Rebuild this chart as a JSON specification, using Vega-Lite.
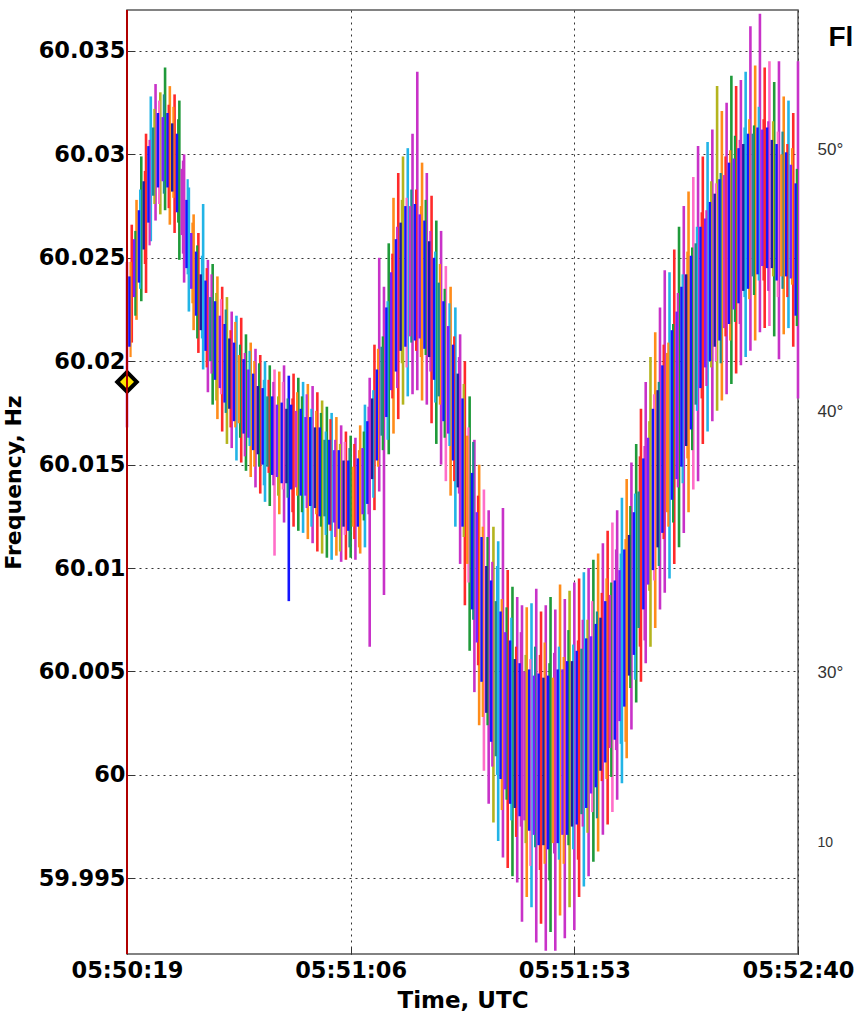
{
  "$schema": "https://vega.github.io/schema/vega-lite/v6.json",
  "width": 671,
  "height": 944,
  "autosize": {"type": "none"},
  "padding": {"left": 127, "top": 10, "right": 56, "bottom": 68},
  "background": "white",
  "config": {"view": {"stroke": "#5a5a5a", "strokeWidth": 1.5}},
  "resolve": {"scale": {"y": "independent"}, "axis": {"y": "independent"}},
  "layer": [
    {
      "layer": [
        {
          "data": {"values": [
{"s":0,"lo":60.0168,"hi":60.0248,"k":"m"},{"s":1,"lo":60.0209,"hi":60.0266,"k":"r"},{"s":2,"lo":60.0220,"hi":60.0278,"k":"o"},{"s":3,"lo":60.0229,"hi":60.0299,"k":"g"},{"s":4,"lo":60.0233,"hi":60.0310,"k":"r"},{"s":5,"lo":60.0258,"hi":60.0328,"k":"c"},{"s":6,"lo":60.0268,"hi":60.0334,"k":"m"},{"s":7,"lo":60.0271,"hi":60.0330,"k":"y"},{"s":8,"lo":60.0273,"hi":60.0342,"k":"g"},{"s":9,"lo":60.0266,"hi":60.0333,"k":"o"},
{"s":10,"lo":60.0262,"hi":60.0329,"k":"r"},{"s":11,"lo":60.0249,"hi":60.0326,"k":"g"},{"s":12,"lo":60.0238,"hi":60.0300,"k":"m"},{"s":13,"lo":60.0224,"hi":60.0284,"k":"c"},{"s":14,"lo":60.0215,"hi":60.0271,"k":"o"},{"s":15,"lo":60.0204,"hi":60.0262,"k":"r"},{"s":16,"lo":60.0196,"hi":60.0276,"k":"c"},{"s":17,"lo":60.0185,"hi":60.0249,"k":"m"},{"s":18,"lo":60.0179,"hi":60.0247,"k":"g"},{"s":19,"lo":60.0172,"hi":60.0241,"k":"o"},
{"s":20,"lo":60.0166,"hi":60.0236,"k":"r"},{"s":21,"lo":60.0160,"hi":60.0231,"k":"y"},{"s":22,"lo":60.0158,"hi":60.0224,"k":"m"},{"s":23,"lo":60.0152,"hi":60.0222,"k":"c"},{"s":24,"lo":60.0151,"hi":60.0221,"k":"r"},{"s":25,"lo":60.0147,"hi":60.0213,"k":"g"},{"s":26,"lo":60.0144,"hi":60.0209,"k":"o"},{"s":27,"lo":60.0139,"hi":60.0206,"k":"m"},{"s":28,"lo":60.0136,"hi":60.0203,"k":"r"},{"s":29,"lo":60.0132,"hi":60.0200,"k":"c"},
{"s":30,"lo":60.0130,"hi":60.0198,"k":"g"},{"s":31,"lo":60.0106,"hi":60.0196,"k":"p"},{"s":32,"lo":60.0126,"hi":60.0195,"k":"o"},{"s":33,"lo":60.0122,"hi":60.0198,"k":"m"},{"s":34,"lo":60.0084,"hi":60.0193,"k":"b"},{"s":35,"lo":60.0120,"hi":60.0194,"k":"r"},{"s":36,"lo":60.0118,"hi":60.0192,"k":"g"},{"s":37,"lo":60.0117,"hi":60.0190,"k":"c"},{"s":38,"lo":60.0114,"hi":60.0189,"k":"o"},{"s":39,"lo":60.0112,"hi":60.0188,"k":"m"},
{"s":40,"lo":60.0108,"hi":60.0185,"k":"r"},{"s":41,"lo":60.0107,"hi":60.0181,"k":"y"},{"s":42,"lo":60.0105,"hi":60.0178,"k":"g"},{"s":43,"lo":60.0104,"hi":60.0175,"k":"c"},{"s":44,"lo":60.0106,"hi":60.0173,"k":"o"},{"s":45,"lo":60.0103,"hi":60.0169,"k":"m"},{"s":46,"lo":60.0104,"hi":60.0166,"k":"r"},{"s":47,"lo":60.0105,"hi":60.0164,"k":"g"},{"s":48,"lo":60.0104,"hi":60.0163,"k":"m"},{"s":49,"lo":60.0107,"hi":60.0169,"k":"o"},
{"s":50,"lo":60.0110,"hi":60.0179,"k":"c"},{"s":51,"lo":60.0062,"hi":60.0192,"k":"m"},{"s":52,"lo":60.0128,"hi":60.0208,"k":"r"},{"s":53,"lo":60.0137,"hi":60.0250,"k":"m"},{"s":54,"lo":60.0087,"hi":60.0236,"k":"m"},{"s":55,"lo":60.0155,"hi":60.0257,"k":"g"},{"s":56,"lo":60.0165,"hi":60.0279,"k":"o"},{"s":57,"lo":60.0172,"hi":60.0291,"k":"r"},{"s":58,"lo":60.0179,"hi":60.0299,"k":"y"},{"s":59,"lo":60.0183,"hi":60.0303,"k":"c"},
{"s":60,"lo":60.0184,"hi":60.0310,"k":"m"},{"s":61,"lo":60.0186,"hi":60.0340,"k":"m"},{"s":62,"lo":60.0181,"hi":60.0296,"k":"o"},{"s":63,"lo":60.0179,"hi":60.0291,"k":"m"},{"s":64,"lo":60.0170,"hi":60.0280,"k":"r"},{"s":65,"lo":60.0160,"hi":60.0268,"k":"g"},{"s":66,"lo":60.0150,"hi":60.0263,"k":"m"},{"s":67,"lo":60.0142,"hi":60.0246,"k":"p"},{"s":68,"lo":60.0135,"hi":60.0236,"k":"o"},{"s":69,"lo":60.0120,"hi":60.0226,"k":"c"},
{"s":70,"lo":60.0102,"hi":60.0213,"k":"m"},{"s":71,"lo":60.0082,"hi":60.0200,"k":"r"},{"s":72,"lo":60.0060,"hi":60.0183,"k":"g"},{"s":73,"lo":60.0040,"hi":60.0162,"k":"m"},{"s":74,"lo":60.0024,"hi":60.0150,"k":"o"},{"s":75,"lo":60.0002,"hi":60.0138,"k":"p"},{"s":76,"lo":59.9986,"hi":60.0128,"k":"m"},{"s":77,"lo":59.9977,"hi":60.0120,"k":"y"},{"s":78,"lo":59.9968,"hi":60.0113,"k":"c"},{"s":79,"lo":59.9960,"hi":60.0129,"k":"m"},
{"s":80,"lo":59.9955,"hi":60.0099,"k":"r"},{"s":81,"lo":59.9951,"hi":60.0091,"k":"g"},{"s":82,"lo":59.9948,"hi":60.0086,"k":"m"},{"s":83,"lo":59.9929,"hi":60.0082,"k":"m"},{"s":84,"lo":59.9941,"hi":60.0081,"k":"o"},{"s":85,"lo":59.9936,"hi":60.0083,"k":"c"},{"s":86,"lo":59.9919,"hi":60.0090,"k":"m"},{"s":87,"lo":59.9928,"hi":60.0079,"k":"r"},{"s":88,"lo":59.9915,"hi":60.0082,"k":"m"},{"s":89,"lo":59.9924,"hi":60.0086,"k":"g"},
{"s":90,"lo":59.9915,"hi":60.0080,"k":"m"},{"s":91,"lo":59.9932,"hi":60.0092,"k":"o"},{"s":92,"lo":59.9921,"hi":60.0085,"k":"m"},{"s":93,"lo":59.9936,"hi":60.0089,"k":"y"},{"s":94,"lo":59.9925,"hi":60.0093,"k":"m"},{"s":95,"lo":59.9941,"hi":60.0095,"k":"r"},{"s":96,"lo":59.9946,"hi":60.0098,"k":"c"},{"s":97,"lo":59.9951,"hi":60.0100,"k":"m"},{"s":98,"lo":59.9958,"hi":60.0104,"k":"g"},{"s":99,"lo":59.9963,"hi":60.0107,"k":"o"},
{"s":100,"lo":59.9971,"hi":60.0112,"k":"m"},{"s":101,"lo":59.9976,"hi":60.0118,"k":"r"},{"s":102,"lo":59.9982,"hi":60.0122,"k":"p"},{"s":103,"lo":59.9988,"hi":60.0128,"k":"m"},{"s":104,"lo":59.9996,"hi":60.0134,"k":"c"},{"s":105,"lo":60.0008,"hi":60.0143,"k":"o"},{"s":106,"lo":60.0022,"hi":60.0151,"k":"m"},{"s":107,"lo":60.0035,"hi":60.0160,"k":"g"},{"s":108,"lo":60.0045,"hi":60.0177,"k":"r"},{"s":109,"lo":60.0054,"hi":60.0190,"k":"m"},
{"s":110,"lo":60.0062,"hi":60.0202,"k":"y"},{"s":111,"lo":60.0071,"hi":60.0214,"k":"o"},{"s":112,"lo":60.0080,"hi":60.0226,"k":"m"},{"s":113,"lo":60.0088,"hi":60.0244,"k":"m"},{"s":114,"lo":60.0095,"hi":60.0243,"k":"c"},{"s":115,"lo":60.0102,"hi":60.0254,"k":"r"},{"s":116,"lo":60.0110,"hi":60.0265,"k":"g"},{"s":117,"lo":60.0117,"hi":60.0275,"k":"m"},{"s":118,"lo":60.0127,"hi":60.0282,"k":"o"},{"s":119,"lo":60.0138,"hi":60.0289,"k":"p"},
{"s":120,"lo":60.0142,"hi":60.0304,"k":"m"},{"s":121,"lo":60.0160,"hi":60.0299,"k":"r"},{"s":122,"lo":60.0166,"hi":60.0306,"k":"c"},{"s":123,"lo":60.0171,"hi":60.0312,"k":"m"},{"s":124,"lo":60.0176,"hi":60.0333,"k":"y"},{"s":125,"lo":60.0181,"hi":60.0321,"k":"o"},{"s":126,"lo":60.0184,"hi":60.0325,"k":"m"},{"s":127,"lo":60.0189,"hi":60.0338,"k":"g"},{"s":128,"lo":60.0194,"hi":60.0333,"k":"r"},{"s":129,"lo":60.0198,"hi":60.0336,"k":"m"},
{"s":130,"lo":60.0202,"hi":60.0340,"k":"c"},{"s":131,"lo":60.0205,"hi":60.0362,"k":"m"},{"s":132,"lo":60.0210,"hi":60.0343,"k":"o"},{"s":133,"lo":60.0214,"hi":60.0368,"k":"m"},{"s":134,"lo":60.0216,"hi":60.0342,"k":"r"},{"s":135,"lo":60.0217,"hi":60.0345,"k":"p"},{"s":136,"lo":60.0212,"hi":60.0335,"k":"g"},{"s":137,"lo":60.0201,"hi":60.0345,"k":"m"},{"s":138,"lo":60.0213,"hi":60.0328,"k":"o"},{"s":139,"lo":60.0216,"hi":60.0326,"k":"c"},
{"s":140,"lo":60.0207,"hi":60.0320,"k":"r"},{"s":141,"lo":60.0182,"hi":60.0345,"k":"m"}
          ]},
          "mark": {"type": "rule", "strokeWidth": 2.6},
          "encoding": {
            "x": {
              "field": "s", "type": "quantitative",
              "scale": {"domain": [0, 141], "nice": false, "zero": false},
              "axis": {
                "title": "Time, UTC",
                "values": [0, 47, 94, 141],
                "labelExpr": "timeFormat(datetime(2013, 0, 1, 5, 50, 19 + datum.value), '%H:%M:%S')",
                "grid": true, "gridDash": [2, 4], "gridColor": "#333", "gridWidth": 1,
                "domain": false, "ticks": true, "tickSize": -7, "tickColor": "#333",
                "labelFlush": false, "labelOverlap": false, "labelBound": false,
                "labelFont": "DejaVu Sans", "labelFontWeight": "bold", "labelFontSize": 22.5, "labelColor": "#000", "labelPadding": 12,
                "titleFont": "DejaVu Sans", "titleFontWeight": "bold", "titleFontSize": 23, "titleColor": "#000", "titlePadding": 8
              }
            },
            "y": {
              "field": "lo", "type": "quantitative",
              "scale": {"domain": [59.99134, 60.03698], "nice": false, "zero": false},
              "axis": {
                "title": "Frequency, Hz",
                "values": [59.995, 60, 60.005, 60.01, 60.015, 60.02, 60.025, 60.03, 60.035],
                "format": ".3~f",
                "grid": true, "gridDash": [2, 4], "gridColor": "#333", "gridWidth": 1,
                "domain": false, "ticks": true, "tickSize": -7, "tickColor": "#333",
                "labelFont": "DejaVu Sans", "labelFontWeight": "bold", "labelFontSize": 22.5, "labelColor": "#000", "labelPadding": 9,
                "titleFont": "DejaVu Sans", "titleFontWeight": "bold", "titleFontSize": 22, "titleColor": "#000", "titlePadding": 13
              }
            },
            "y2": {"field": "hi"},
            "color": {
              "field": "k", "type": "nominal", "legend": null,
              "scale": {
                "domain": ["m", "r", "o", "g", "c", "y", "p", "b", "v", "n", "t"],
                "range": ["#c832c8", "#ff2a2a", "#ff8c1a", "#1f9a3a", "#22b4e6", "#b4b41e", "#ff6ec8", "#1414ff", "#7a1eff", "#1c1ca0", "#1e8c8c"]
              }
            }
          }
        },
        {
          "data": {"values": [
{"s":0.75,"lo":60.0202,"hi":60.0248,"k":"o"},{"s":1.75,"lo":60.0222,"hi":60.0263,"k":"g"},{"s":2.75,"lo":60.0235,"hi":60.0283,"k":"c"},{"s":3.75,"lo":60.0247,"hi":60.0292,"k":"r"},{"s":4.75,"lo":60.0256,"hi":60.0307,"k":"m"},{"s":5.75,"lo":60.0276,"hi":60.0322,"k":"y"},{"s":6.75,"lo":60.0276,"hi":60.0326,"k":"p"},{"s":7.75,"lo":60.0281,"hi":60.0329,"k":"t"},{"s":8.75,"lo":60.0274,"hi":60.0324,"k":"r"},{"s":9.75,"lo":60.0279,"hi":60.0323,"k":"o"},
{"s":10.75,"lo":60.0267,"hi":60.0317,"k":"g"},{"s":11.75,"lo":60.0252,"hi":60.0297,"k":"m"},{"s":12.75,"lo":60.0242,"hi":60.0288,"k":"c"},{"s":13.75,"lo":60.0228,"hi":60.0267,"k":"o"},{"s":14.75,"lo":60.0211,"hi":60.0256,"k":"g"},{"s":15.75,"lo":60.0211,"hi":60.0251,"k":"c"},{"s":16.75,"lo":60.0197,"hi":60.0245,"k":"r"},{"s":17.75,"lo":60.0194,"hi":60.0242,"k":"m"},{"s":18.75,"lo":60.0181,"hi":60.0233,"k":"y"},{"s":19.75,"lo":60.0184,"hi":60.0230,"k":"p"},
{"s":20.75,"lo":60.0175,"hi":60.0225,"k":"t"},{"s":21.75,"lo":60.0168,"hi":60.0215,"k":"r"},{"s":22.75,"lo":60.0168,"hi":60.0219,"k":"o"},{"s":23.75,"lo":60.0163,"hi":60.0208,"k":"g"},{"s":24.75,"lo":60.0154,"hi":60.0204,"k":"m"},{"s":25.75,"lo":60.0159,"hi":60.0205,"k":"c"},{"s":26.75,"lo":60.0149,"hi":60.0200,"k":"o"},{"s":27.75,"lo":60.0149,"hi":60.0199,"k":"g"},{"s":28.75,"lo":60.0140,"hi":60.0191,"k":"c"},{"s":29.75,"lo":60.0146,"hi":60.0191,"k":"r"},
{"s":30.75,"lo":60.0140,"hi":60.0190,"k":"m"},{"s":31.75,"lo":60.0135,"hi":60.0183,"k":"y"},{"s":32.75,"lo":60.0138,"hi":60.0190,"k":"p"},{"s":33.75,"lo":60.0134,"hi":60.0182,"k":"t"},{"s":34.75,"lo":60.0127,"hi":60.0182,"k":"r"},{"s":35.75,"lo":60.0135,"hi":60.0185,"k":"o"},{"s":36.75,"lo":60.0127,"hi":60.0183,"k":"g"},{"s":37.75,"lo":60.0129,"hi":60.0184,"k":"m"},{"s":38.75,"lo":60.0120,"hi":60.0177,"k":"c"},{"s":39.75,"lo":60.0126,"hi":60.0176,"k":"o"},
{"s":40.75,"lo":60.0120,"hi":60.0175,"k":"g"},{"s":41.75,"lo":60.0116,"hi":60.0166,"k":"c"},{"s":42.75,"lo":60.0118,"hi":60.0172,"k":"r"},{"s":43.75,"lo":60.0115,"hi":60.0162,"k":"m"},{"s":44.75,"lo":60.0108,"hi":60.0160,"k":"y"},{"s":45.75,"lo":60.0116,"hi":60.0161,"k":"p"},{"s":46.75,"lo":60.0110,"hi":60.0158,"k":"t"},{"s":47.75,"lo":60.0114,"hi":60.0160,"k":"r"},{"s":48.75,"lo":60.0110,"hi":60.0157,"k":"o"},{"s":49.75,"lo":60.0123,"hi":60.0166,"k":"g"},
{"s":50.75,"lo":60.0126,"hi":60.0178,"k":"m"},{"s":51.75,"lo":60.0134,"hi":60.0186,"k":"c"},{"s":52.75,"lo":60.0149,"hi":60.0206,"k":"o"},{"s":53.75,"lo":60.0157,"hi":60.0212,"k":"g"},{"s":54.75,"lo":60.0162,"hi":60.0229,"k":"c"},{"s":55.75,"lo":60.0182,"hi":60.0252,"k":"r"},{"s":56.75,"lo":60.0187,"hi":60.0265,"k":"m"},{"s":57.75,"lo":60.0199,"hi":60.0278,"k":"y"},{"s":58.75,"lo":60.0197,"hi":60.0279,"k":"p"},{"s":59.75,"lo":60.0209,"hi":60.0283,"k":"t"},
{"s":60.75,"lo":60.0205,"hi":60.0283,"k":"r"},{"s":61.75,"lo":60.0202,"hi":60.0275,"k":"o"},{"s":62.75,"lo":60.0203,"hi":60.0278,"k":"g"},{"s":63.75,"lo":60.0195,"hi":60.0263,"k":"m"},{"s":64.75,"lo":60.0180,"hi":60.0253,"k":"c"},{"s":65.75,"lo":60.0179,"hi":60.0247,"k":"o"},{"s":66.75,"lo":60.0163,"hi":60.0235,"k":"g"},{"s":67.75,"lo":60.0159,"hi":60.0228,"k":"c"},{"s":68.75,"lo":60.0142,"hi":60.0212,"k":"r"},{"s":69.75,"lo":60.0136,"hi":60.0202,"k":"m"},
{"s":70.75,"lo":60.0115,"hi":60.0189,"k":"y"},{"s":71.75,"lo":60.0093,"hi":60.0168,"k":"p"},{"s":72.75,"lo":60.0075,"hi":60.0161,"k":"t"},{"s":73.75,"lo":60.0053,"hi":60.0135,"k":"r"},{"s":74.75,"lo":60.0028,"hi":60.0120,"k":"o"},{"s":75.75,"lo":60.0024,"hi":60.0115,"k":"g"},{"s":76.75,"lo":60.0004,"hi":60.0103,"k":"m"},{"s":77.75,"lo":60.0000,"hi":60.0101,"k":"c"},{"s":78.75,"lo":59.9983,"hi":60.0085,"k":"o"},{"s":79.75,"lo":59.9988,"hi":60.0081,"k":"g"},
{"s":80.75,"lo":59.9978,"hi":60.0076,"k":"c"},{"s":81.75,"lo":59.9970,"hi":60.0062,"k":"r"},{"s":82.75,"lo":59.9975,"hi":60.0069,"k":"m"},{"s":83.75,"lo":59.9967,"hi":60.0058,"k":"y"},{"s":84.75,"lo":59.9956,"hi":60.0056,"k":"p"},{"s":85.75,"lo":59.9965,"hi":60.0062,"k":"t"},{"s":86.75,"lo":59.9954,"hi":60.0058,"k":"r"},{"s":87.75,"lo":59.9957,"hi":60.0064,"k":"o"},{"s":88.75,"lo":59.9949,"hi":60.0054,"k":"g"},{"s":89.75,"lo":59.9962,"hi":60.0059,"k":"m"},
{"s":90.75,"lo":59.9959,"hi":60.0062,"k":"c"},{"s":91.75,"lo":59.9957,"hi":60.0057,"k":"o"},{"s":92.75,"lo":59.9966,"hi":60.0070,"k":"g"},{"s":93.75,"lo":59.9964,"hi":60.0063,"k":"c"},{"s":94.75,"lo":59.9959,"hi":60.0065,"k":"r"},{"s":95.75,"lo":59.9975,"hi":60.0075,"k":"m"},{"s":96.75,"lo":59.9972,"hi":60.0075,"k":"y"},{"s":97.75,"lo":59.9982,"hi":60.0084,"k":"p"},{"s":98.75,"lo":59.9979,"hi":60.0079,"k":"t"},{"s":99.75,"lo":59.9997,"hi":60.0088,"k":"r"},
{"s":100.75,"lo":59.9998,"hi":60.0095,"k":"o"},{"s":101.75,"lo":59.9999,"hi":60.0093,"k":"g"},{"s":102.75,"lo":60.0012,"hi":60.0109,"k":"m"},{"s":103.75,"lo":60.0015,"hi":60.0107,"k":"c"},{"s":104.75,"lo":60.0016,"hi":60.0114,"k":"o"},{"s":105.75,"lo":60.0042,"hi":60.0130,"k":"g"},{"s":106.75,"lo":60.0046,"hi":60.0136,"k":"c"},{"s":107.75,"lo":60.0062,"hi":60.0154,"k":"r"},{"s":108.75,"lo":60.0065,"hi":60.0159,"k":"m"},{"s":109.75,"lo":60.0089,"hi":60.0171,"k":"y"},
{"s":110.75,"lo":60.0094,"hi":60.0184,"k":"p"},{"s":111.75,"lo":60.0101,"hi":60.0190,"k":"t"},{"s":112.75,"lo":60.0114,"hi":60.0208,"k":"r"},{"s":113.75,"lo":60.0120,"hi":60.0209,"k":"o"},{"s":114.75,"lo":60.0122,"hi":60.0218,"k":"g"},{"s":115.75,"lo":60.0139,"hi":60.0233,"k":"m"},{"s":116.75,"lo":60.0141,"hi":60.0242,"k":"c"},{"s":117.75,"lo":60.0153,"hi":60.0253,"k":"o"},{"s":118.75,"lo":60.0157,"hi":60.0255,"k":"g"},{"s":119.75,"lo":60.0176,"hi":60.0265,"k":"c"},
{"s":120.75,"lo":60.0182,"hi":60.0272,"k":"r"},{"s":121.75,"lo":60.0188,"hi":60.0273,"k":"m"},{"s":122.75,"lo":60.0197,"hi":60.0287,"k":"y"},{"s":123.75,"lo":60.0200,"hi":60.0286,"k":"p"},{"s":124.75,"lo":60.0199,"hi":60.0291,"k":"t"},{"s":125.75,"lo":60.0212,"hi":60.0299,"k":"r"},{"s":126.75,"lo":60.0210,"hi":60.0302,"k":"o"},{"s":127.75,"lo":60.0219,"hi":60.0309,"k":"g"},{"s":128.75,"lo":60.0218,"hi":60.0307,"k":"m"},{"s":129.75,"lo":60.0231,"hi":60.0313,"k":"c"},
{"s":130.75,"lo":60.0230,"hi":60.0317,"k":"o"},{"s":131.75,"lo":60.0232,"hi":60.0314,"k":"g"},{"s":132.75,"lo":60.0239,"hi":60.0323,"k":"c"},{"s":133.75,"lo":60.0239,"hi":60.0317,"k":"r"},{"s":134.75,"lo":60.0234,"hi":60.0316,"k":"m"},{"s":135.75,"lo":60.0241,"hi":60.0316,"k":"y"},{"s":136.75,"lo":60.0231,"hi":60.0311,"k":"p"},{"s":137.75,"lo":60.0235,"hi":60.0311,"k":"t"},{"s":138.75,"lo":60.0231,"hi":60.0305,"k":"r"},{"s":139.75,"lo":60.0237,"hi":60.0303,"k":"o"},
{"s":140.75,"lo":60.0217,"hi":60.0293,"k":"g"}
          ]},
          "mark": {"type": "rule", "strokeWidth": 2.2},
          "encoding": {
            "x": {"field": "s", "type": "quantitative"},
            "y": {"field": "lo", "type": "quantitative"},
            "y2": {"field": "hi"},
            "color": {"field": "k", "type": "nominal", "legend": null}
          }
        },
        {
          "data": {"values": [
{"s":0.5,"lo":60.0207,"hi":60.0241,"k":"b"},{"s":1.5,"lo":60.0231,"hi":60.0259,"k":"v"},{"s":2.5,"lo":60.0238,"hi":60.0273,"k":"b"},{"s":3.5,"lo":60.0254,"hi":60.0287,"k":"n"},{"s":4.5,"lo":60.0267,"hi":60.0304,"k":"b"},{"s":5.5,"lo":60.0280,"hi":60.0313,"k":"t"},{"s":6.5,"lo":60.0284,"hi":60.0320,"k":"b"},{"s":7.5,"lo":60.0287,"hi":60.0318,"k":"v"},{"s":8.5,"lo":60.0284,"hi":60.0320,"k":"b"},{"s":9.5,"lo":60.0282,"hi":60.0315,"k":"n"},
{"s":10.5,"lo":60.0272,"hi":60.0310,"k":"b"},{"s":11.5,"lo":60.0261,"hi":60.0293,"k":"m"},{"s":12.5,"lo":60.0245,"hi":60.0278,"k":"b"},{"s":13.5,"lo":60.0235,"hi":60.0262,"k":"v"},{"s":14.5,"lo":60.0222,"hi":60.0253,"k":"b"},{"s":15.5,"lo":60.0215,"hi":60.0242,"k":"n"},{"s":16.5,"lo":60.0205,"hi":60.0239,"k":"b"},{"s":17.5,"lo":60.0200,"hi":60.0231,"k":"t"},{"s":18.5,"lo":60.0191,"hi":60.0229,"k":"b"},{"s":19.5,"lo":60.0187,"hi":60.0222,"k":"v"},
{"s":20.5,"lo":60.0180,"hi":60.0218,"k":"b"},{"s":21.5,"lo":60.0177,"hi":60.0211,"k":"n"},{"s":22.5,"lo":60.0171,"hi":60.0209,"k":"b"},{"s":23.5,"lo":60.0170,"hi":60.0203,"k":"o"},{"s":24.5,"lo":60.0165,"hi":60.0201,"k":"b"},{"s":25.5,"lo":60.0163,"hi":60.0196,"k":"v"},{"s":26.5,"lo":60.0157,"hi":60.0194,"k":"b"},{"s":27.5,"lo":60.0155,"hi":60.0188,"k":"n"},{"s":28.5,"lo":60.0150,"hi":60.0187,"k":"b"},{"s":29.5,"lo":60.0149,"hi":60.0183,"k":"t"},
{"s":30.5,"lo":60.0145,"hi":60.0183,"k":"b"},{"s":31.5,"lo":60.0144,"hi":60.0179,"k":"v"},{"s":32.5,"lo":60.0141,"hi":60.0180,"k":"b"},{"s":33.5,"lo":60.0141,"hi":60.0177,"k":"n"},{"s":34.5,"lo":60.0138,"hi":60.0179,"k":"b"},{"s":35.5,"lo":60.0139,"hi":60.0176,"k":"m"},{"s":36.5,"lo":60.0135,"hi":60.0177,"k":"b"},{"s":37.5,"lo":60.0135,"hi":60.0173,"k":"v"},{"s":38.5,"lo":60.0130,"hi":60.0173,"k":"b"},{"s":39.5,"lo":60.0129,"hi":60.0168,"k":"n"},
{"s":40.5,"lo":60.0125,"hi":60.0168,"k":"b"},{"s":41.5,"lo":60.0125,"hi":60.0162,"k":"t"},{"s":42.5,"lo":60.0121,"hi":60.0162,"k":"b"},{"s":43.5,"lo":60.0122,"hi":60.0157,"k":"v"},{"s":44.5,"lo":60.0119,"hi":60.0157,"k":"b"},{"s":45.5,"lo":60.0120,"hi":60.0152,"k":"n"},{"s":46.5,"lo":60.0118,"hi":60.0152,"k":"b"},{"s":47.5,"lo":60.0120,"hi":60.0149,"k":"o"},{"s":48.5,"lo":60.0120,"hi":60.0153,"k":"b"},{"s":49.5,"lo":60.0126,"hi":60.0158,"k":"v"},
{"s":50.5,"lo":60.0131,"hi":60.0171,"k":"b"},{"s":51.5,"lo":60.0143,"hi":60.0182,"k":"n"},{"s":52.5,"lo":60.0152,"hi":60.0196,"k":"b"},{"s":53.5,"lo":60.0164,"hi":60.0207,"k":"t"},{"s":54.5,"lo":60.0173,"hi":60.0226,"k":"b"},{"s":55.5,"lo":60.0186,"hi":60.0243,"k":"v"},{"s":56.5,"lo":60.0195,"hi":60.0259,"k":"b"},{"s":57.5,"lo":60.0205,"hi":60.0267,"k":"n"},{"s":58.5,"lo":60.0207,"hi":60.0275,"k":"b"},{"s":59.5,"lo":60.0212,"hi":60.0275,"k":"m"},
{"s":60.5,"lo":60.0210,"hi":60.0276,"k":"b"},{"s":61.5,"lo":60.0211,"hi":60.0271,"k":"v"},{"s":62.5,"lo":60.0206,"hi":60.0268,"k":"b"},{"s":63.5,"lo":60.0202,"hi":60.0258,"k":"n"},{"s":64.5,"lo":60.0191,"hi":60.0250,"k":"b"},{"s":65.5,"lo":60.0183,"hi":60.0238,"k":"t"},{"s":66.5,"lo":60.0171,"hi":60.0229,"k":"b"},{"s":67.5,"lo":60.0165,"hi":60.0217,"k":"v"},{"s":68.5,"lo":60.0152,"hi":60.0208,"k":"b"},{"s":69.5,"lo":60.0139,"hi":60.0194,"k":"n"},
{"s":70.5,"lo":60.0120,"hi":60.0182,"k":"b"},{"s":71.5,"lo":60.0102,"hi":60.0164,"k":"o"},{"s":72.5,"lo":60.0080,"hi":60.0146,"k":"b"},{"s":73.5,"lo":60.0064,"hi":60.0127,"k":"v"},{"s":74.5,"lo":60.0045,"hi":60.0115,"k":"b"},{"s":75.5,"lo":60.0030,"hi":60.0101,"k":"n"},{"s":76.5,"lo":60.0016,"hi":60.0094,"k":"b"},{"s":77.5,"lo":60.0009,"hi":60.0084,"k":"t"},{"s":78.5,"lo":59.9998,"hi":60.0079,"k":"b"},{"s":79.5,"lo":59.9993,"hi":60.0069,"k":"v"},
{"s":80.5,"lo":59.9986,"hi":60.0065,"k":"b"},{"s":81.5,"lo":59.9984,"hi":60.0056,"k":"n"},{"s":82.5,"lo":59.9980,"hi":60.0054,"k":"b"},{"s":83.5,"lo":59.9978,"hi":60.0050,"k":"m"},{"s":84.5,"lo":59.9973,"hi":60.0051,"k":"b"},{"s":85.5,"lo":59.9971,"hi":60.0048,"k":"v"},{"s":86.5,"lo":59.9966,"hi":60.0049,"k":"b"},{"s":87.5,"lo":59.9966,"hi":60.0047,"k":"n"},{"s":88.5,"lo":59.9964,"hi":60.0048,"k":"b"},{"s":89.5,"lo":59.9967,"hi":60.0047,"k":"o"},
{"s":90.5,"lo":59.9967,"hi":60.0051,"k":"b"},{"s":91.5,"lo":59.9971,"hi":60.0051,"k":"v"},{"s":92.5,"lo":59.9971,"hi":60.0055,"k":"b"},{"s":93.5,"lo":59.9975,"hi":60.0055,"k":"n"},{"s":94.5,"lo":59.9976,"hi":60.0060,"k":"b"},{"s":95.5,"lo":59.9981,"hi":60.0061,"k":"t"},{"s":96.5,"lo":59.9984,"hi":60.0066,"k":"b"},{"s":97.5,"lo":59.9991,"hi":60.0067,"k":"v"},{"s":98.5,"lo":59.9994,"hi":60.0073,"k":"b"},{"s":99.5,"lo":60.0002,"hi":60.0076,"k":"n"},
{"s":100.5,"lo":60.0006,"hi":60.0084,"k":"b"},{"s":101.5,"lo":60.0013,"hi":60.0087,"k":"m"},{"s":102.5,"lo":60.0017,"hi":60.0094,"k":"b"},{"s":103.5,"lo":60.0026,"hi":60.0099,"k":"v"},{"s":104.5,"lo":60.0033,"hi":60.0109,"k":"b"},{"s":105.5,"lo":60.0048,"hi":60.0116,"k":"n"},{"s":106.5,"lo":60.0058,"hi":60.0127,"k":"b"},{"s":107.5,"lo":60.0071,"hi":60.0137,"k":"t"},{"s":108.5,"lo":60.0080,"hi":60.0153,"k":"b"},{"s":109.5,"lo":60.0092,"hi":60.0163,"k":"v"},
{"s":110.5,"lo":60.0099,"hi":60.0177,"k":"b"},{"s":111.5,"lo":60.0110,"hi":60.0186,"k":"n"},{"s":112.5,"lo":60.0117,"hi":60.0198,"k":"b"},{"s":113.5,"lo":60.0127,"hi":60.0204,"k":"o"},{"s":114.5,"lo":60.0133,"hi":60.0215,"k":"b"},{"s":115.5,"lo":60.0143,"hi":60.0224,"k":"v"},{"s":116.5,"lo":60.0149,"hi":60.0236,"k":"b"},{"s":117.5,"lo":60.0159,"hi":60.0242,"k":"n"},{"s":118.5,"lo":60.0167,"hi":60.0251,"k":"b"},{"s":119.5,"lo":60.0179,"hi":60.0257,"k":"t"},
{"s":120.5,"lo":60.0187,"hi":60.0265,"k":"b"},{"s":121.5,"lo":60.0197,"hi":60.0269,"k":"v"},{"s":122.5,"lo":60.0200,"hi":60.0277,"k":"b"},{"s":123.5,"lo":60.0207,"hi":60.0281,"k":"n"},{"s":124.5,"lo":60.0210,"hi":60.0288,"k":"b"},{"s":125.5,"lo":60.0216,"hi":60.0290,"k":"m"},{"s":126.5,"lo":60.0218,"hi":60.0296,"k":"b"},{"s":127.5,"lo":60.0225,"hi":60.0298,"k":"v"},{"s":128.5,"lo":60.0228,"hi":60.0303,"k":"b"},{"s":129.5,"lo":60.0234,"hi":60.0305,"k":"n"},
{"s":130.5,"lo":60.0235,"hi":60.0310,"k":"b"},{"s":131.5,"lo":60.0241,"hi":60.0310,"k":"t"},{"s":132.5,"lo":60.0242,"hi":60.0313,"k":"b"},{"s":133.5,"lo":60.0246,"hi":60.0312,"k":"v"},{"s":134.5,"lo":60.0245,"hi":60.0313,"k":"b"},{"s":135.5,"lo":60.0245,"hi":60.0307,"k":"n"},{"s":136.5,"lo":60.0239,"hi":60.0305,"k":"b"},{"s":137.5,"lo":60.0241,"hi":60.0300,"k":"o"},{"s":138.5,"lo":60.0241,"hi":60.0301,"k":"b"},{"s":139.5,"lo":60.0240,"hi":60.0295,"k":"v"},
{"s":140.5,"lo":60.0222,"hi":60.0286,"k":"b"}
          ]},
          "mark": {"type": "rule", "strokeWidth": 2.4},
          "encoding": {
            "x": {"field": "s", "type": "quantitative"},
            "y": {"field": "lo", "type": "quantitative"},
            "y2": {"field": "hi"},
            "color": {"field": "k", "type": "nominal", "legend": null}
          }
        },
        {
          "data": {"values": [{"s": 0, "f": 60.019}]},
          "mark": {"type": "point", "shape": "diamond", "filled": true, "fill": "#ffe600", "stroke": "#000", "strokeWidth": 4, "size": 380, "opacity": 1},
          "encoding": {
            "x": {"field": "s", "type": "quantitative"},
            "y": {"field": "f", "type": "quantitative"}
          }
        },
        {
          "data": {"values": [{"s": 0}]},
          "mark": {"type": "rule", "color": "#b00000", "strokeWidth": 2},
          "encoding": {"x": {"field": "s", "type": "quantitative"}}
        }
      ]
    },
    {
      "data": {"values": [{"lat": 50}, {"lat": 40}, {"lat": 30}, {"lat": 23.5}]},
      "mark": {"type": "point", "opacity": 0},
      "encoding": {
        "y": {
          "field": "lat", "type": "quantitative",
          "scale": {"domain": [19.25, 55.35], "nice": false, "zero": false},
          "axis": {
            "orient": "right",
            "values": [50, 40, 30, 23.5],
            "labelExpr": "datum.value > 25 ? datum.value + '°' : '10'",
            "domain": false, "ticks": false, "grid": false,
            "labelFont": "Liberation Sans", "labelFontSize": {"condition": {"test": "datum.value < 25", "value": 14}, "value": 17},
            "labelColor": "#333", "labelPadding": 19,
            "title": "Fl", "titleAngle": 0, "titleX": 30, "titleY": 27, "titleAlign": "left", "titleBaseline": "middle",
            "titleFont": "Liberation Sans", "titleFontWeight": "bold", "titleFontSize": 28, "titleColor": "#000"
          }
        }
      }
    }
  ]
}
